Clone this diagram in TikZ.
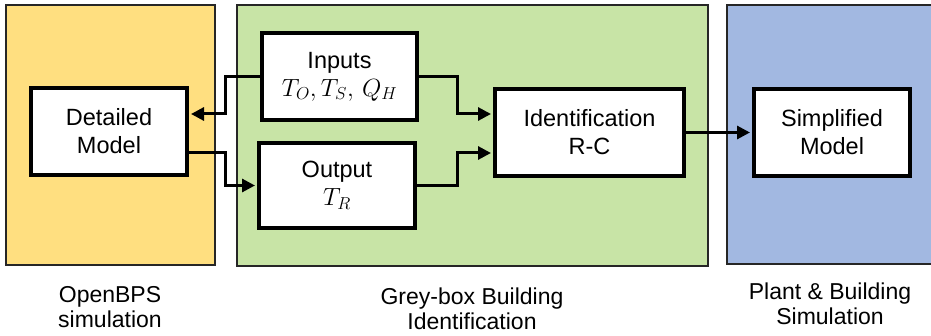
\documentclass[tikz,border=0pt]{standalone}
\usepackage{fontspec}
\setmainfont{Liberation Sans}
\usetikzlibrary{arrows.meta,calc}
\definecolor{panelyellow}{HTML}{FFDF80}
\definecolor{panelgreen}{HTML}{C8E4A6}
\definecolor{panelblue}{HTML}{A2B8E1}
\newcommand{\bigmath}[1]{{\fontsize{26}{28}\selectfont$#1$}}
\tikzset{
  panel/.style={draw=black!85,line width=1.5pt},
  blockbox/.style={draw=black,fill=white,line width=4pt,align=center,inner sep=0pt,
    font=\fontsize{23.5}{28}\selectfont},
  conn/.style={line width=3pt,-{Triangle[length=13pt,width=13pt]},shorten >=2pt},
  plabel/.style={align=center,font=\fontsize{23}{25}\selectfont}
}
\begin{document}
\begin{tikzpicture}[x=1pt,y=-1pt]
\useasboundingbox (0,0) rectangle (931,336);
\fill[white] (0,0) rectangle (931,336);
% panels
\draw[panel,fill=panelyellow] (6,5) rectangle (215,265);
\draw[panel,fill=panelgreen] (237,5) rectangle (708,266);
\draw[panel,fill=panelblue] (727,5) rectangle (935,264);
% panel labels
\node[plabel] (lab1) at (110,307) {OpenBPS\\simulation};
\node[plabel] (lab2) at (472,309) {Grey-box Building\\Identification};
\node[plabel] (lab3) at (830,304) {Plant \& Building\\Simulation};
% blocks
\node[blockbox,minimum width=156pt,minimum height=87pt] (det) at (109,131.5) {Detailed\\Model};
\node[blockbox,minimum width=155pt,minimum height=87pt] (inp) at (339.5,76.5) {Inputs\\\bigmath{T_O,T_S,\,Q_H}};
\node[blockbox,minimum width=156pt,minimum height=85pt] (out) at (337,185.5) {Output\\\bigmath{T_R}};
\node[blockbox,minimum width=189pt,minimum height=87pt] (ide) at (589.5,132.5) {Identification\\R-C};
\node[blockbox,minimum width=156pt,minimum height=87pt] (sim) at (832,132.5) {Simplified\\Model};
% connectors
\coordinate (j1) at (225,0);
\coordinate (j2) at (457,0);
\draw[conn] (inp.west) -- (j1 |- inp.west) |- ($(det.east)+(0,-17.5)$);
\draw[conn] ($(det.east)+(0,21.5)$) -- (j1 |- {$(det.east)+(0,21.5)$}) |- (out.west);
\draw[conn] (inp.east) -- (j2 |- inp.east) |- ($(ide.west)+(0,-18.5)$);
\draw[conn] (out.east) -- (j2 |- out.east) |- ($(ide.west)+(0,20.5)$);
\draw[conn] (ide.east) -- (sim.west);
\end{tikzpicture}
\end{document}
